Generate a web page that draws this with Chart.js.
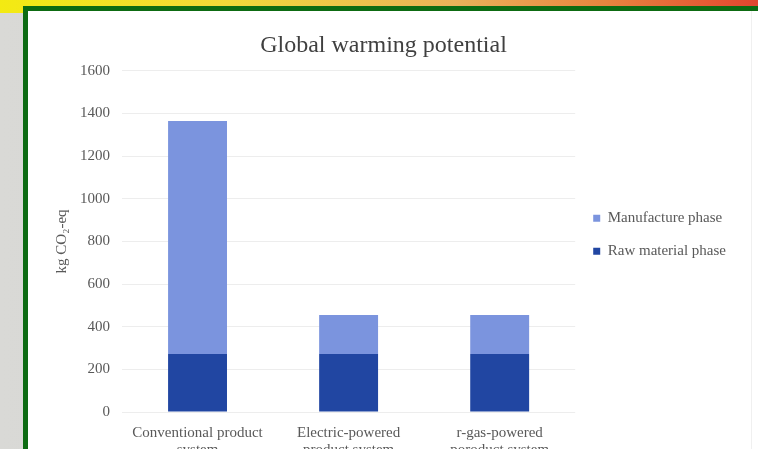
<!DOCTYPE html>
<html>
<head>
<meta charset="utf-8">
<script src="https://cdn.jsdelivr.net/npm/chart.js@4.4.0/dist/chart.umd.min.js"></script>
<style>
  html, body { margin: 0; padding: 0; width: 758px; height: 449px; overflow: hidden; }
  body { position: relative; background: linear-gradient(90deg, #d9d9d6 0%, #cfcfcb 100%); }
  #topband {
    position: absolute; left: 0; top: 0; width: 758px; height: 13px;
    background: linear-gradient(90deg, #f3ea12 0%, #f2d93a 30%, #eab25a 60%, #e8843f 80%, #e2452f 100%);
  }
  #frame {
    position: absolute; left: 23px; top: 6px; width: 740px; height: 450px;
    border-left: 5px solid #0d6b12; border-top: 5px solid #0d6b12;
    background: #ffffff;
  }
  #plotbox {
    position: absolute; left: 29px; top: 11px; width: 722px; height: 450px;
    border-right: 1px solid #f0f0f0;
  }
  #wrap { position: absolute; left: 29px; top: 11px; width: 722px; height: 480px; }
</style>
</head>
<body>
<div id="topband"></div>
<div id="frame"></div>
<div id="plotbox"></div>
<div id="wrap"><canvas id="c" width="722" height="480"></canvas></div>
<script>
// Product systems compared (x-axis categories, each wrapped onto two lines)
const categories = [
  ['Conventional product', 'system'],
  ['Electric-powered', 'product system'],
  ['r-gas-powered', 'poroduct system']
];
// kg CO2-eq per life-cycle phase
const rawMaterialPhase = [272, 272, 272];
const manufacturePhase = [1093, 183, 183];
const yTicks = [0, 200, 400, 600, 800, 1000, 1200, 1400, 1600];

const serif = '"Liberation Serif", "DejaVu Serif", serif';
const textGray = '#595959';

// Nudge the title over the plot and lift the legend beside the bars
const boxNudge = {
  id: 'boxNudge',
  afterLayout(chart) {
    const lg = chart.legend;
    if (lg) { lg.top -= 8; lg.bottom -= 8; }
    const tb = chart.titleBlock;
    if (tb) { tb.left -= 11; tb.right -= 11; }
  }
};

new Chart(document.getElementById('c'), {
  type: 'bar',
  data: {
    labels: categories,
    datasets: [
      { label: 'Raw material phase', data: rawMaterialPhase, backgroundColor: '#2146a2' },
      { label: 'Manufacture phase', data: manufacturePhase, backgroundColor: '#7b94de' }
    ]
  },
  plugins: [boxNudge],
  options: {
    responsive: false,
    animation: false,
    layout: { padding: { left: 24, right: 15, top: 12, bottom: 28.5 } },
    datasets: { bar: { categoryPercentage: 1.0, barPercentage: 0.39 } },
    plugins: {
      title: {
        display: true,
        text: 'Global warming potential',
        color: '#404040',
        font: { family: serif, size: 24, weight: 'normal' },
        padding: { top: 8, bottom: 11 }
      },
      legend: {
        position: 'right',
        reverse: true,
        labels: {
          color: textGray,
          font: { family: serif, size: 15 },
          boxWidth: 7,
          boxHeight: 7,
          padding: 18
        }
      },
      tooltip: { enabled: false }
    },
    scales: {
      x: {
        stacked: true,
        grid: { display: false },
        border: { display: false },
        ticks: {
          color: textGray,
          font: { family: serif, size: 15, lineHeight: 1.15 },
          padding: 4,
          maxRotation: 0
        }
      },
      y: {
        stacked: true,
        min: 0,
        max: 1600,
        afterBuildTicks: (axis) => { axis.ticks = yTicks.map(v => ({ value: v })); },
        grid: { color: '#ededed', drawTicks: false },
        border: { display: false },
        ticks: {
          color: textGray,
          font: { family: serif, size: 15 },
          padding: 12,
          callback: (v) => String(v)
        },
        title: {
          display: true,
          text: 'kg CO₂-eq',
          color: textGray,
          font: { family: serif, size: 15 },
          padding: { top: 0, bottom: -3 }
        }
      }
    }
  }
});
</script>
</body>
</html>
